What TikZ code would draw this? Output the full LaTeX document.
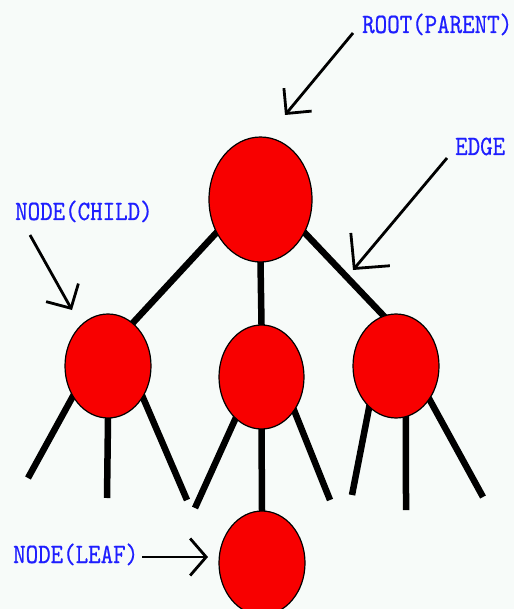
\documentclass[tikz,border=0pt]{standalone}
\usepackage{fontspec}
\usetikzlibrary{shapes.geometric,arrows.meta}
\newfontfamily\labelfont[FakeStretch=0.85,FakeBold=0.6]{lmmono10-regular.otf}
\definecolor{paper}{RGB}{247,251,249}
\definecolor{nodered}{RGB}{248,0,0}
\definecolor{labelblue}{RGB}{30,30,255}
\pgfdeclarelayer{back}
\pgfsetlayers{back,main}
\tikzset{
  treenode/.style={ellipse, draw=black, line width=1.2pt, fill=nodered, inner sep=0pt},
  branch/.style={line width=6.5pt, black, shorten <=-4pt, shorten >=-4pt},
  stub/.style={line width=6.5pt, black, shorten <=-4pt},
  pointer/.style={line width=2.8pt, black},
  caption/.style={anchor=base west, inner sep=0pt, text=labelblue,
    font=\labelfont\fontsize{28}{28}\selectfont},
}
\begin{document}
\begin{tikzpicture}[x=1pt,y=-1pt]
  \useasboundingbox (0,0) rectangle (514,609);

  % tree nodes
  \node[treenode, minimum width=103pt, minimum height=125pt] (root) at (260.5,199.5) {};
  \node[treenode, minimum width=86pt, minimum height=104pt] (lc) at (108,366) {};
  \node[treenode, minimum width=85pt, minimum height=104pt] (mc) at (261.5,377) {};
  \node[treenode, minimum width=86pt, minimum height=104pt] (rc) at (396,366) {};
  \node[treenode, minimum width=86pt, minimum height=104pt] (leaf) at (262,563) {};

  % loose ends of the branches
  \coordinate (l1) at (28,478);
  \coordinate (l2) at (107,498);
  \coordinate (l3) at (187,500);
  \coordinate (m1) at (195,508);
  \coordinate (m3) at (330,500);
  \coordinate (r1) at (352,495);
  \coordinate (r2) at (406,510);
  \coordinate (r3) at (483,497);

  \begin{pgfonlayer}{back}
    % canvas
    \fill[paper] (0,0) rectangle (514,609);
    % edges between nodes
    \draw[branch] (root.217.6) -- (lc.60.8);
    \draw[branch] (root.south) -- (mc.north);
    \draw[branch] (root.323) -- (rc.104.9);
    \draw[branch] (mc.south) -- (leaf.north);
    % open branches
    \draw[stub] (lc.221.5) -- (l1);
    \draw[stub] (lc.south) -- (l2);
    \draw[stub] (lc.318.5) -- (l3);
    \draw[stub] (mc.238) -- (m1);
    \draw[stub] (mc.314.6) -- (m3);
    \draw[stub] (rc.237.6) -- (r1);
    \draw[stub] (rc.281) -- (r2);
    \draw[stub] (rc.315) -- (r3);
  \end{pgfonlayer}

  % labels
  \node[caption] (tRoot) at (362,33) {ROOT(PARENT)};
  \node[caption] (tEdge) at (455,155) {EDGE};
  \node[caption] (tChild) at (15,220) {NODE(CHILD)};
  \node[caption] (tLeaf) at (13,563) {NODE(LEAF)};

  % pointer arrows
  \coordinate (aRoot) at (353,33);   \coordinate (hRoot) at (285,115);
  \coordinate (aEdge) at (447,158);  \coordinate (hEdge) at (353,270);
  \coordinate (aChild) at (30,235);  \coordinate (hChild) at (72,310);
  \coordinate (aLeaf) at (142,557);  \coordinate (hLeaf) at (208,557);
  \draw[pointer, -{Straight Barb[length=18pt, width=36pt]}] (aRoot) -- (hRoot);
  \draw[pointer, -{Straight Barb[length=25pt, width=51pt]}] (aEdge) -- (hEdge);
  \draw[pointer, -{Straight Barb[length=18pt, width=37pt]}] (aChild) -- (hChild);
  \draw[pointer, -{Straight Barb[length=16pt, width=37pt]}] (aLeaf) -- (hLeaf);
\end{tikzpicture}
\end{document}
